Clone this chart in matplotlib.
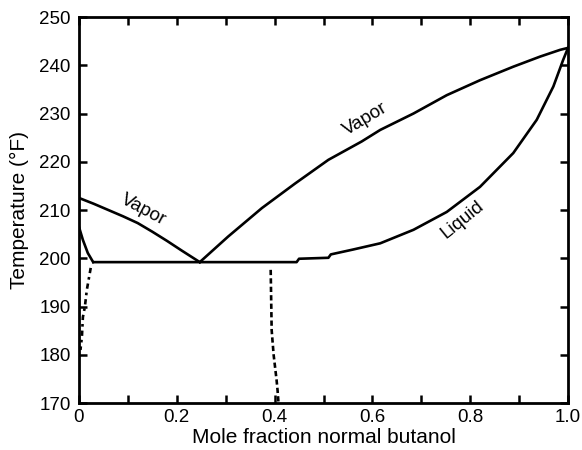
"""Water / n-butanol T-x-y diagram at 1 atm."""
import matplotlib
matplotlib.use("Agg")
import matplotlib.pyplot as plt

plt.rcParams["font.family"] = ["Liberation Sans", "DejaVu Sans"]

# vapor branch, water-rich side
vap_left_x = [0.0, 0.03, 0.06, 0.09, 0.12, 0.15, 0.18, 0.21, 0.247]
vap_left_t = [212.5, 211.3, 210.0, 208.7, 207.3, 205.5, 203.6, 201.6, 199.2]

# vapor branch, butanol-rich side
vap_right_x = [0.247, 0.305, 0.374, 0.442, 0.510, 0.578, 0.616, 0.684, 0.752,
               0.820, 0.888, 0.943, 0.984, 1.0]
vap_right_t = [199.2, 204.5, 210.4, 215.5, 220.4, 224.2, 226.6, 230.0, 233.8,
               236.9, 239.7, 241.8, 243.2, 243.6]

# liquid, butanol-rich side
liq_right_x = [0.03, 0.445, 0.450, 0.51, 0.515, 0.56, 0.616, 0.684, 0.752,
               0.820, 0.888, 0.936, 0.970, 0.990, 1.0]
liq_right_t = [199.2, 199.2, 199.9, 200.1, 200.8, 201.8, 203.1, 205.9, 209.6,
               214.8, 221.8, 228.7, 235.6, 241.1, 243.6]

# liquid, water-rich side
liq_left_x = [0.0, 0.008, 0.018, 0.029]
liq_left_t = [206.5, 203.8, 201.1, 199.2]

# solubility limits below the three-phase line
sol_w_x = [0.024, 0.016, 0.012, 0.008, 0.006, 0.003]
sol_w_t = [198.0, 193.4, 189.9, 187.8, 183.7, 181.0]
sol_b_x = [0.392, 0.394, 0.398, 0.404, 0.406, 0.408]
sol_b_t = [197.6, 185.1, 180.0, 174.8, 172.7, 170.0]

fig = plt.figure(figsize=(5.82, 4.50), dpi=100)
ax = fig.add_axes([0.1357, 0.1044, 0.8403, 0.8578])

lw = 1.9
ax.plot(vap_left_x, vap_left_t, color="black", lw=lw)
ax.plot(vap_right_x, vap_right_t, color="black", lw=lw)
ax.plot(liq_right_x, liq_right_t, color="black", lw=lw)
ax.plot(liq_left_x, liq_left_t, color="black", lw=lw)
ax.plot(sol_w_x, sol_w_t, color="black", lw=lw, ls=(0, (2, 1.5, 1, 1.5)))
ax.plot(sol_b_x, sol_b_t, color="black", lw=lw, ls=(0, (2, 1.2)))

ax.text(0.131, 210.0, "Vapor", rotation=-28, ha="center", va="center", fontsize=13.5)
ax.text(0.585, 228.9, "Vapor", rotation=31, ha="center", va="center", fontsize=13.5)
ax.text(0.785, 207.9, "Liquid", rotation=39, ha="center", va="center", fontsize=13.5)

ax.set_xlim(0, 1.0)
ax.set_ylim(170, 250)
ax.set_xticks([0, 0.2, 0.4, 0.6, 0.8, 1.0])
ax.set_xticklabels(["0", "0.2", "0.4", "0.6", "0.8", "1.0"])
ax.set_xticks([0.1, 0.3, 0.5, 0.7, 0.9], minor=True)
ax.set_yticks(range(170, 251, 10))
ax.tick_params(which="both", direction="in", top=True, right=True, width=1.8,
               length=6, labelsize=13.5)
ax.tick_params(axis="y", pad=6)
ax.tick_params(axis="x", pad=4)
for s in ax.spines.values():
    s.set_linewidth(2.0)

ax.set_xlabel("Mole fraction normal butanol", fontsize=15, labelpad=2)
ax.set_ylabel("Temperature (°F)", fontsize=15, labelpad=7)

fig.savefig("out.png", dpi=100)
